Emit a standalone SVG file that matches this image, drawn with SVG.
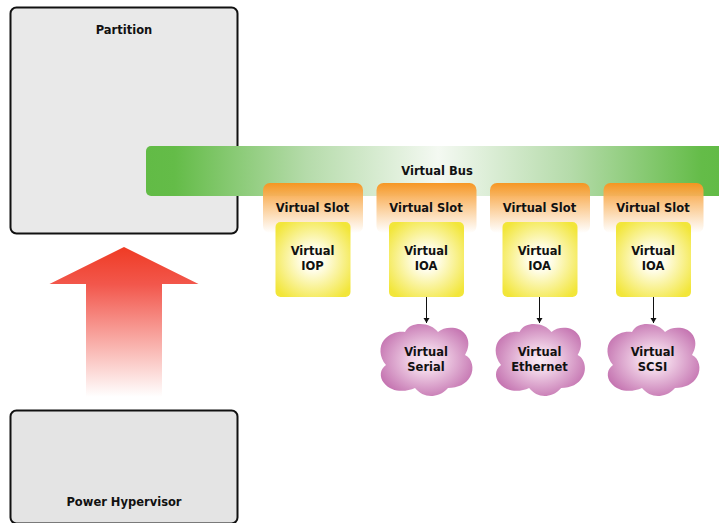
<svg xmlns="http://www.w3.org/2000/svg" width="719" height="523" viewBox="0 0 719 523">
<style>
text{font-family:"DejaVu Sans",Verdana,sans-serif;font-weight:700;font-size:11.5px;fill:#111;text-anchor:middle}
.box{stroke:#111;stroke-width:2}
.slot{fill:url(#slotG)}
.card{fill:url(#cardG)}
.cloud{fill:url(#cloudG)}
.conn{stroke:#111;stroke-width:1;fill:none;marker-end:url(#arrow)}
</style>
<defs>
<linearGradient id="busG" gradientUnits="userSpaceOnUse" x1="146" y1="0" x2="719" y2="0">
<stop offset="0" stop-color="#62bb46"/><stop offset="0.05" stop-color="#64bc48"/><stop offset="0.28" stop-color="#b5dbaa"/><stop offset="0.51" stop-color="#f4f9f2"/><stop offset="0.74" stop-color="#b5dbaa"/><stop offset="0.97" stop-color="#64bc48"/><stop offset="1" stop-color="#62bb46"/>
</linearGradient>
<linearGradient id="slotG" x1="0" y1="0" x2="0" y2="1">
<stop offset="0" stop-color="#f7941e" stop-opacity="0.97"/><stop offset="1" stop-color="#fff" stop-opacity="0.85"/>
</linearGradient>
<radialGradient id="cardG" cx="0.5" cy="0.5" r="0.62">
<stop offset="0" stop-color="#fff"/><stop offset="0.25" stop-color="#fffde8"/><stop offset="1" stop-color="#f2e63a"/>
</radialGradient>
<radialGradient id="cloudG" cx="0.5" cy="0.5" r="0.6">
<stop offset="0" stop-color="#f9ecf5"/><stop offset="0.3" stop-color="#efcfe5"/><stop offset="1" stop-color="#c06aab"/>
</radialGradient>
<linearGradient id="upG" gradientUnits="userSpaceOnUse" x1="0" y1="247" x2="0" y2="397">
<stop offset="0" stop-color="#ef3b24"/><stop offset="0.25" stop-color="#f2574c"/><stop offset="1" stop-color="#fff"/>
</linearGradient>
<marker id="arrow" markerUnits="userSpaceOnUse" markerWidth="6" markerHeight="7" refX="5" refY="3" orient="auto">
<path d="M0,0L5,3L0,6z" fill="#111"/>
</marker>
<path id="cloudShape" d="M35,42C38,36 44,34 50,34C58,34 64,37 68,42C72,38 79,37 85,38C96,40 103,52 95,65C102,68 105,79 100,87C96,94 88,98 78,98C73,104 66,106 61,106C55,106 49,103 45,98C36,102 22,103 14,93C9,87 10,79 16,75C9,67 9,56 14,50C20,43 28,41 35,42Z"/>
</defs>
<g id="partition"><rect class="box" x="10.500" y="7.500" width="227" height="226" rx="6" fill="#e9e9e9"/><text x="124" y="34">Partition</text></g>
<g id="hypervisor"><rect class="box" x="10.500" y="410.500" width="227" height="113" rx="6" fill="#e4e4e4"/><text x="124" y="506">Power Hypervisor</text></g>
<g id="arrow-up"><path d="M124,247L198.500,284H162V397H86V284H49.500Z" fill="url(#upG)"/></g>
<g id="bus"><path d="M719,146H151a5,5 0 0 0-5,5V191a5,5 0 0 0 5,5H719Z" fill="url(#busG)"/><text x="437" y="175">Virtual Bus</text></g>
<g id="slot1"><rect class="slot" x="263" y="183" width="100" height="50" rx="7"/><text x="312.500" y="212">Virtual Slot</text></g>
<g id="slot2"><rect class="slot" x="376.500" y="183" width="100" height="50" rx="7"/><text x="426" y="212">Virtual Slot</text></g>
<g id="slot3"><rect class="slot" x="490" y="183" width="100" height="50" rx="7"/><text x="539.500" y="212">Virtual Slot</text></g>
<g id="slot4"><rect class="slot" x="603.500" y="183" width="100" height="50" rx="7"/><text x="653" y="212">Virtual Slot</text></g>
<g id="iop"><rect class="card" x="275.500" y="222" width="75" height="75" rx="5"/><text x="312.500" y="255">Virtual</text><text x="312.500" y="270">IOP</text></g>
<g id="ioa1"><rect class="card" x="389" y="222" width="75" height="75" rx="5"/><text x="426" y="255">Virtual</text><text x="426" y="270">IOA</text></g>
<g id="ioa2"><rect class="card" x="502.500" y="222" width="75" height="75" rx="5"/><text x="539.500" y="255">Virtual</text><text x="539.500" y="270">IOA</text></g>
<g id="ioa3"><rect class="card" x="616" y="222" width="75" height="75" rx="5"/><text x="653" y="255">Virtual</text><text x="653" y="270">IOA</text></g>
<g id="connectors">
<path class="conn" d="M426.500,297V323"/>
<path class="conn" d="M539.500,297V323"/>
<path class="conn" d="M653.500,297V323"/>
</g>
<g id="serial"><use href="#cloudShape" class="cloud" x="370" y="290"/><text x="426" y="356">Virtual</text><text x="426" y="371">Serial</text></g>
<g id="ethernet"><use href="#cloudShape" class="cloud" transform="translate(485.500,290) scale(0.97,1)"/><text x="539.500" y="356">Virtual</text><text x="539.500" y="371">Ethernet</text></g>
<g id="scsi"><use href="#cloudShape" class="cloud" x="597" y="290"/><text x="652.500" y="356">Virtual</text><text x="652.500" y="371">SCSI</text></g>
</svg>
